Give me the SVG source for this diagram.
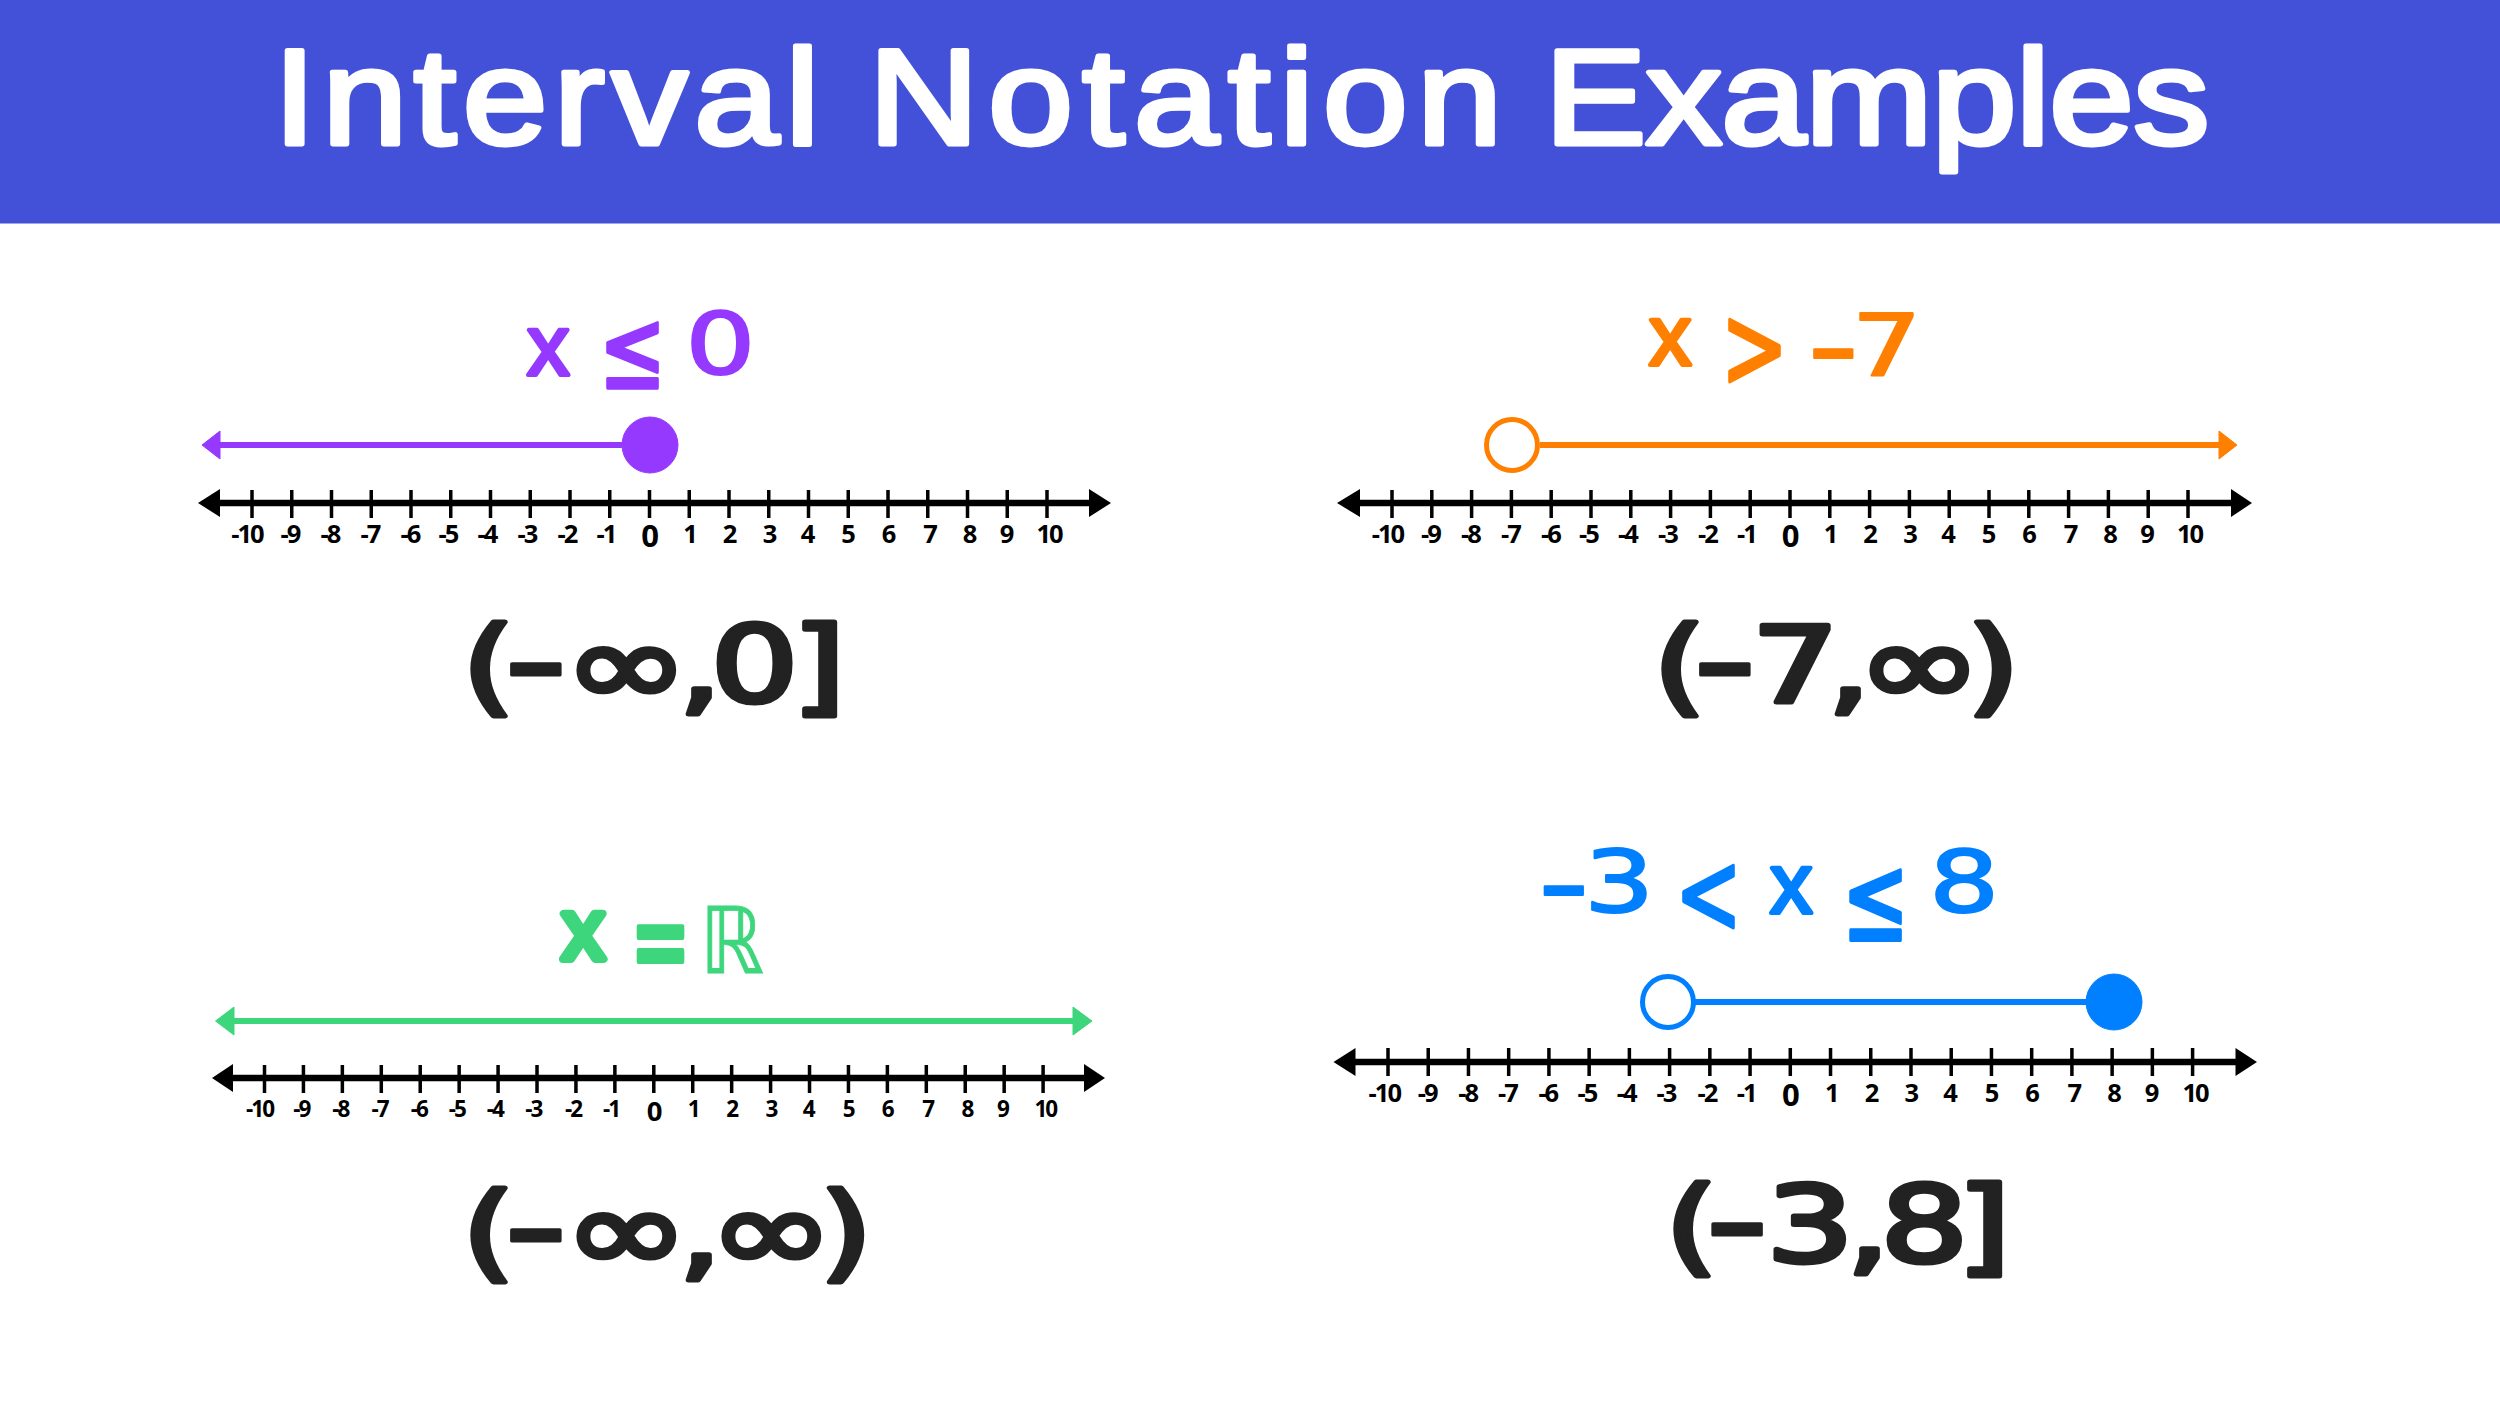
<svg xmlns="http://www.w3.org/2000/svg" width="2500" height="1406" viewBox="0 0 2500 1406">
<style>
.title{font-family:"Liberation Sans",Arial,sans-serif;font-size:136px;fill:#fff;stroke:#fff;stroke-width:5;stroke-linejoin:round}
.expr{font-family:"DejaVu Sans",sans-serif;font-size:106px;fill:#222;stroke:#222;stroke-width:5;stroke-linejoin:round;stroke-linecap:round}
.dash{font-size:139px;stroke-width:3}
.inf{font-size:116px}
.ineq{font-family:"DejaVu Sans",sans-serif;font-size:85px;stroke-linejoin:round;stroke-linecap:round;stroke-width:2}
.op{font-family:"DejaVu Sans",sans-serif;font-size:80px;stroke-linejoin:round;stroke-linecap:round;stroke-width:2.5}
.dash2{font-size:110px}
.v{font-family:"Liberation Sans",sans-serif;font-size:85px;stroke-width:4}
.purple{fill:#9639ff;stroke:#9639ff}
.orange{fill:#ff8000;stroke:#ff8000}
.green{fill:#3dd67c;stroke:#3dd67c}
.blue{fill:#0080ff;stroke:#0080ff}
.ray{fill:none;stroke-width:6}
.open{fill:#fff;stroke-width:5}
.axis{fill:none;stroke:#000;stroke-width:6.5}
.ticks{fill:none;stroke:#000;stroke-width:3.5}
.num text{font-family:"Open Sans",sans-serif;font-weight:700;font-size:25.5px;text-anchor:middle;letter-spacing:-2px;fill:#000}
.num .z{font-size:31px;letter-spacing:0}
.num2 text{font-size:22.5px}
.num2 .z{font-size:27.5px}
</style>

<g id="header">
<rect x="0" y="0" width="2500" height="223.5" fill="#4350d8"/>
<text class="title" transform="scale(1.12 1)" y="144"><tspan x="244.3" style="letter-spacing:5.9px">Interval </tspan><tspan x="775.7" style="letter-spacing:8.4px">Notation </tspan><tspan x="1379.2" style="letter-spacing:-.5px">Examples</tspan></text>
</g>

<g id="panel-top-left">
<g id="ineq-1">
<text class="op v purple" x="527" y="375">x</text>
<text class="op purple" transform="matrix(1 0 0 1.4 599 388)">≤</text>
<text class="ineq purple" transform="scale(1.3 1)" x="527.1" y="374.5">0</text>
</g>
<g id="ray-1">
<path class="ray purple" d="M220 445H622"/>
<polygon class="purple" stroke="none" points="202,445 220,431 220,459"/>
<circle class="purple" cx="650" cy="445" r="28"/>
</g>
<g id="axis-1">
<path class="axis" d="M215 503H1094"/>
<polygon points="198,503 220,489 220,517"/>
<polygon points="1111,503 1089,489 1089,517"/>
<path class="ticks" d="M252 490v28m39.75-28v28m39.75-28v28m39.75-28v28m39.75-28v28m39.75-28v28m39.75-28v28m39.75-28v28m39.75-28v28m39.75-28v28m39.75-28v28m39.75-28v28m39.75-28v28m39.75-28v28m39.75-28v28m39.75-28v28m39.75-28v28m39.75-28v28m39.75-28v28m39.75-28v28m39.75-28v28"/>
<g class="num">
<text x="247" y="543">-10</text><text x="290" y="543">-9</text><text x="330" y="543">-8</text><text x="370" y="543">-7</text><text x="410" y="543">-6</text><text x="448" y="543">-5</text><text x="487" y="543">-4</text><text x="527" y="543">-3</text><text x="567" y="543">-2</text><text x="606" y="543">-1</text><text class="z" x="650" y="547">0</text><text x="689.5" y="543">1</text><text x="729" y="543">2</text><text x="769" y="543">3</text><text x="807" y="543">4</text><text x="847.5" y="543">5</text><text x="888" y="543">6</text><text x="929.5" y="543">7</text><text x="969" y="543">8</text><text x="1006" y="543">9</text><text x="1049" y="543">10</text>
</g>
</g>
<text id="expr-1" class="expr" transform="scale(1.3 1)" y="702"><tspan x="355.2">(</tspan><tspan class="dash" x="387.2" dy="6">-</tspan><tspan class="inf" x="433.5" dy="-3">∞</tspan><tspan x="521.7" dy="-3">,</tspan><tspan x="546.7">0</tspan><tspan x="609.3">]</tspan></text>
</g>

<g id="panel-top-right">
<g id="ineq-2">
<text class="op v orange" x="1649" y="365">x</text>
<text class="op orange" transform="matrix(1 0 0 1.45 1721 387)">&gt;</text>
<text class="ineq orange" transform="scale(1.3 1)" y="375"><tspan class="dash2" x="1390.3" dy="9">-</tspan><tspan x="1424.2" dy="-9">7</tspan></text>
</g>
<g id="ray-2">
<path class="ray orange" d="M1540 445H2222"/>
<polygon class="orange" stroke="none" points="2237,445 2219,431 2219,459"/>
<circle class="open orange" cx="1512" cy="445" r="25.5"/>
</g>
<g id="axis-2">
<path class="axis" d="M1355 503H2236"/>
<polygon points="1337,503 1360,489 1360,517"/>
<polygon points="2252,503 2231,489 2231,517"/>
<path class="ticks" d="M1392 490v28m39.8-28v28m39.8-28v28m39.8-28v28m39.8-28v28m39.8-28v28m39.8-28v28m39.8-28v28m39.8-28v28m39.8-28v28m39.8-28v28m39.8-28v28m39.8-28v28m39.8-28v28m39.8-28v28m39.8-28v28m39.8-28v28m39.8-28v28m39.8-28v28m39.8-28v28m39.8-28v28"/>
<g class="num">
<text x="1387.5" y="543">-10</text><text x="1430.5" y="543">-9</text><text x="1470.5" y="543">-8</text><text x="1510.5" y="543">-7</text><text x="1550.5" y="543">-6</text><text x="1588.5" y="543">-5</text><text x="1627.5" y="543">-4</text><text x="1667.5" y="543">-3</text><text x="1707.5" y="543">-2</text><text x="1746.5" y="543">-1</text><text class="z" x="1790.5" y="547">0</text><text x="1830" y="543">1</text><text x="1869.5" y="543">2</text><text x="1909.5" y="543">3</text><text x="1947.5" y="543">4</text><text x="1988" y="543">5</text><text x="2028.5" y="543">6</text><text x="2070" y="543">7</text><text x="2109.5" y="543">8</text><text x="2146.5" y="543">9</text><text x="2189.5" y="543">10</text>
</g>
</g>
<text id="expr-2" class="expr" transform="scale(1.3 1)" y="702"><tspan x="1271.3">(</tspan><tspan class="dash" x="1301.8" dy="6">-</tspan><tspan x="1347.4" dy="-6">7</tspan><tspan x="1405.6">,</tspan><tspan class="inf" x="1428" dy="3">∞</tspan><tspan x="1512.5" dy="-3">)</tspan></text>
</g>

<g id="panel-bottom-left">
<g id="ineq-3">
<text class="op v green" style="stroke-width:8" x="562" y="959">x</text>
<text class="op green" style="stroke-width:4" transform="matrix(.88 0 0 1.5 631 982)">=</text>
<text class="green" style="font-family:'DejaVu Sans',sans-serif;font-size:92px;stroke-width:.8" transform="matrix(.88 0 0 1 700 973)">ℝ</text>
</g>
<g id="ray-3">
<path class="ray green" d="M230 1021H1078"/>
<polygon class="green" stroke="none" points="215.5,1021 234,1007 234,1035"/>
<polygon class="green" stroke="none" points="1092,1021 1073,1007 1073,1035"/>
</g>
<g id="axis-3">
<path class="axis" d="M228 1078H1090"/>
<polygon points="212,1078 233,1064 233,1092"/>
<polygon points="1105,1078 1084,1064 1084,1092"/>
<path class="ticks" d="M264.5 1065v28m38.93-28v28m38.93-28v28m38.93-28v28m38.93-28v28m38.93-28v28m38.93-28v28m38.93-28v28m38.93-28v28m38.93-28v28m38.93-28v28m38.93-28v28m38.93-28v28m38.93-28v28m38.93-28v28m38.93-28v28m38.93-28v28m38.93-28v28m38.93-28v28m38.93-28v28m38.93-28v28"/>
<g class="num num2">
<text x="259.6" y="1117">-10</text><text x="301.3" y="1117">-9</text><text x="340.4" y="1117">-8</text><text x="379.6" y="1117">-7</text><text x="418.8" y="1117">-6</text><text x="456.8" y="1117">-5</text><text x="494.8" y="1117">-4</text><text x="533.3" y="1117">-3</text><text x="573.1" y="1117">-2</text><text x="611.1" y="1117">-1</text><text class="z" x="654.6" y="1121">0</text><text x="693.2" y="1117">1</text><text x="731.8" y="1117">2</text><text x="771" y="1117">3</text><text x="808.3" y="1117">4</text><text x="848.1" y="1117">5</text><text x="887.3" y="1117">6</text><text x="927.7" y="1117">7</text><text x="966.9" y="1117">8</text><text x="1002.4" y="1117">9</text><text x="1045.3" y="1117">10</text>
</g>
</g>
<text id="expr-3" class="expr" transform="scale(1.3 1)" y="1268"><tspan x="355.2">(</tspan><tspan class="dash" x="387.2" dy="6">-</tspan><tspan class="inf" x="433.5" dy="-3">∞</tspan><tspan x="521.7" dy="-3">,</tspan><tspan class="inf" x="545" dy="3">∞</tspan><tspan x="630" dy="-3">)</tspan></text>
</g>

<g id="panel-bottom-right">
<g id="ineq-4">
<text class="ineq blue" transform="scale(1.3 1)" y="912.5"><tspan class="dash2" x="1183" dy="8.5">-</tspan><tspan x="1218.5" dy="-8.5">3</tspan></text>
<text class="op blue" transform="matrix(1 0 0 1.45 1675 933)">&lt;</text>
<text class="op v blue" x="1770" y="913">x</text>
<text class="op blue" transform="matrix(1 0 0 1.5 1842 939.5)">≤</text>
<text class="ineq blue" transform="scale(1.3 1)" x="1483.8" y="912.5">8</text>
</g>
<g id="ray-4">
<path class="ray blue" d="M1695 1002H2090"/>
<circle class="open blue" cx="1668" cy="1002" r="25.5"/>
<circle class="blue" cx="2114" cy="1002" r="28"/>
</g>
<g id="axis-4">
<path class="axis" d="M1350 1062H2240"/>
<polygon points="1333.5,1062 1355.5,1048 1355.5,1076"/>
<polygon points="2257,1062 2235.5,1048 2235.5,1076"/>
<path class="ticks" d="M1388 1048v28m40.23-28v28m40.23-28v28m40.23-28v28m40.23-28v28m40.23-28v28m40.23-28v28m40.23-28v28m40.23-28v28m40.23-28v28m40.23-28v28m40.23-28v28m40.23-28v28m40.23-28v28m40.23-28v28m40.23-28v28m40.23-28v28m40.23-28v28m40.23-28v28m40.23-28v28m40.23-28v28"/>
<g class="num">
<text x="1384.3" y="1102">-10</text><text x="1427.2" y="1102">-9</text><text x="1467.6" y="1102">-8</text><text x="1507.4" y="1102">-7</text><text x="1547.8" y="1102">-6</text><text x="1587" y="1102">-5</text><text x="1626.2" y="1102">-4</text><text x="1666" y="1102">-3</text><text x="1707" y="1102">-2</text><text x="1746.2" y="1102">-1</text><text class="z" x="1790.9" y="1106">0</text><text x="1831.3" y="1102">1</text><text x="1871.1" y="1102">2</text><text x="1910.9" y="1102">3</text><text x="1949.5" y="1102">4</text><text x="1991.1" y="1102">5</text><text x="2031.6" y="1102">6</text><text x="2073.8" y="1102">7</text><text x="2113.6" y="1102">8</text><text x="2151" y="1102">9</text><text x="2195.1" y="1102">10</text>
</g>
</g>
<text id="expr-4" class="expr" transform="scale(1.3 1)" y="1262"><tspan x="1280.5">(</tspan><tspan class="dash" x="1311.1" dy="6">-</tspan><tspan x="1358.7" dy="-6">3</tspan><tspan x="1420.2">,</tspan><tspan x="1446.5">8</tspan><tspan x="1505.4">]</tspan></text>
</g>
</svg>
